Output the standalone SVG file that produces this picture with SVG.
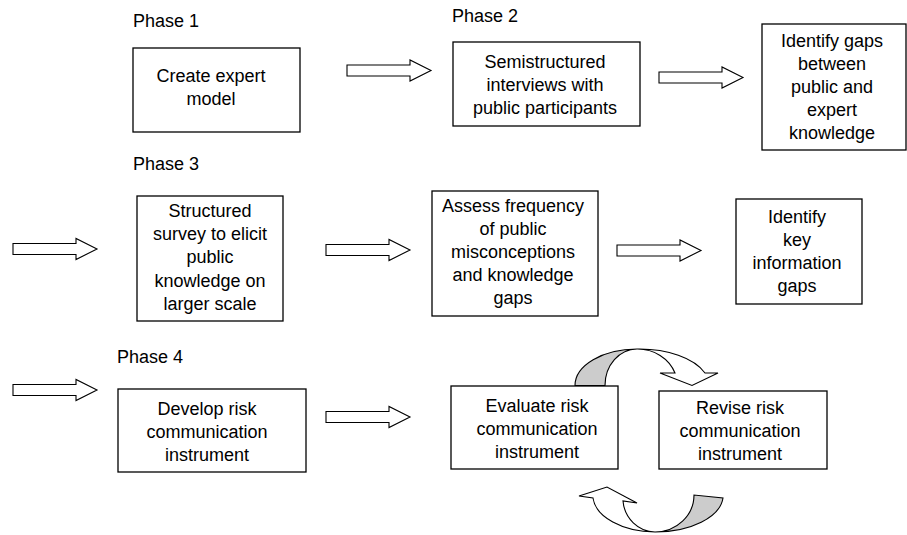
<svg xmlns="http://www.w3.org/2000/svg" xmlns:xlink="http://www.w3.org/1999/xlink" width="907" height="535" viewBox="0 0 907 535">
<style>
  .box { fill: #ffffff; stroke: #000000; stroke-width: 1.3; }
  .lbl { font-family: "Liberation Sans", Arial, sans-serif; font-size: 18px; fill: #000000; text-anchor: middle; }
  .phase { font-family: "Liberation Sans", Arial, sans-serif; font-size: 18px; fill: #000000; }
  .barrow { fill: #ffffff; stroke: #000000; stroke-width: 1.1; stroke-linejoin: miter; }
  .curve-front { fill: #ffffff; stroke: #000000; stroke-width: 1.1; }
  .curve-back { fill: #cccccc; stroke: #000000; stroke-width: 1.1; }
</style>
<defs>
  <path id="blockArrow" d="M0,-5.5 H63 V-10.5 L84,0 L63,10.5 V5.5 H0 Z"/>
</defs>

<rect width="907" height="535" fill="#ffffff"/>

<text class="phase" x="133" y="27">Phase 1</text>
<text class="phase" x="452" y="22">Phase 2</text>
<text class="phase" x="133" y="170">Phase 3</text>
<text class="phase" x="117" y="363">Phase 4</text>

<g id="connectors">
  <use xlink:href="#blockArrow" class="barrow" transform="translate(347,70.5)"/>
  <use xlink:href="#blockArrow" class="barrow" transform="translate(659,77.5)"/>
  <use xlink:href="#blockArrow" class="barrow" transform="translate(13,249)"/>
  <use xlink:href="#blockArrow" class="barrow" transform="translate(326,250)"/>
  <use xlink:href="#blockArrow" class="barrow" transform="translate(617,250.5)"/>
  <use xlink:href="#blockArrow" class="barrow" transform="translate(13,390)"/>
  <use xlink:href="#blockArrow" class="barrow" transform="translate(326,417)"/>
  <!-- top curved arrow: Evaluate -> Revise -->
  <path class="curve-back" d="M575,385.5 A62,36.5 0 0 1 637,349 A32,36.5 0 0 0 605,385.5 Z"/>
  <path class="curve-front" d="M637,349 A70,37 0 0 1 705,373 L718,373 L692,385.5 L660,373 L675,373 A40,37 0 0 0 637,349 Z"/>
  <!-- bottom curved arrow: Revise -> Evaluate -->
  <path class="curve-back" d="M655,532 A68,37 0 0 0 723,498 L694,495 A39,37 0 0 1 655,532 Z"/>
  <path class="curve-front" d="M655,532 A63,37 0 0 1 593,498 L579,496 L607,487 L637,503 L623,501 A33,34 0 0 0 655,532 Z"/>
</g>

<g id="node-expert-model">
  <rect class="box" x="133" y="48" width="167" height="84"/>
  <text class="lbl" x="211" y="82">Create expert</text>
  <text class="lbl" x="211" y="105">model</text>
</g>

<g id="node-semistructured">
  <rect class="box" x="453" y="42" width="187" height="84"/>
  <text class="lbl" x="545" y="68">Semistructured</text>
  <text class="lbl" x="545" y="91">interviews with</text>
  <text class="lbl" x="545" y="114">public participants</text>
</g>

<g id="node-identify-gaps">
  <rect class="box" x="762" y="24" width="144" height="126"/>
  <text class="lbl" x="832" y="47">Identify gaps</text>
  <text class="lbl" x="832" y="70">between</text>
  <text class="lbl" x="832" y="93">public and</text>
  <text class="lbl" x="832" y="116">expert</text>
  <text class="lbl" x="832" y="139">knowledge</text>
</g>

<g id="node-structured-survey">
  <rect class="box" x="137" y="196" width="146" height="125"/>
  <text class="lbl" x="210" y="217">Structured</text>
  <text class="lbl" x="210" y="240">survey to elicit</text>
  <text class="lbl" x="210" y="263">public</text>
  <text class="lbl" x="210" y="287">knowledge on</text>
  <text class="lbl" x="210" y="310">larger scale</text>
</g>

<g id="node-assess-frequency">
  <rect class="box" x="432" y="191" width="166" height="125"/>
  <text class="lbl" x="513" y="212">Assess frequency</text>
  <text class="lbl" x="513" y="235">of public</text>
  <text class="lbl" x="513" y="258">misconceptions</text>
  <text class="lbl" x="513" y="281">and knowledge</text>
  <text class="lbl" x="513" y="304">gaps</text>
</g>

<g id="node-key-gaps">
  <rect class="box" x="736" y="199" width="126" height="105"/>
  <text class="lbl" x="797" y="223">Identify</text>
  <text class="lbl" x="797" y="246">key</text>
  <text class="lbl" x="797" y="269">information</text>
  <text class="lbl" x="797" y="292">gaps</text>
</g>

<g id="node-develop">
  <rect class="box" x="118" y="389" width="188" height="83"/>
  <text class="lbl" x="207" y="415">Develop risk</text>
  <text class="lbl" x="207" y="438">communication</text>
  <text class="lbl" x="207" y="461">instrument</text>
</g>

<g id="node-evaluate">
  <rect class="box" x="451" y="386" width="167" height="83"/>
  <text class="lbl" x="537" y="412">Evaluate risk</text>
  <text class="lbl" x="537" y="435">communication</text>
  <text class="lbl" x="537" y="458">instrument</text>
</g>

<g id="node-revise">
  <rect class="box" x="659" y="391" width="168" height="78"/>
  <text class="lbl" x="740" y="414">Revise risk</text>
  <text class="lbl" x="740" y="437">communication</text>
  <text class="lbl" x="740" y="460">instrument</text>
</g>
</svg>
